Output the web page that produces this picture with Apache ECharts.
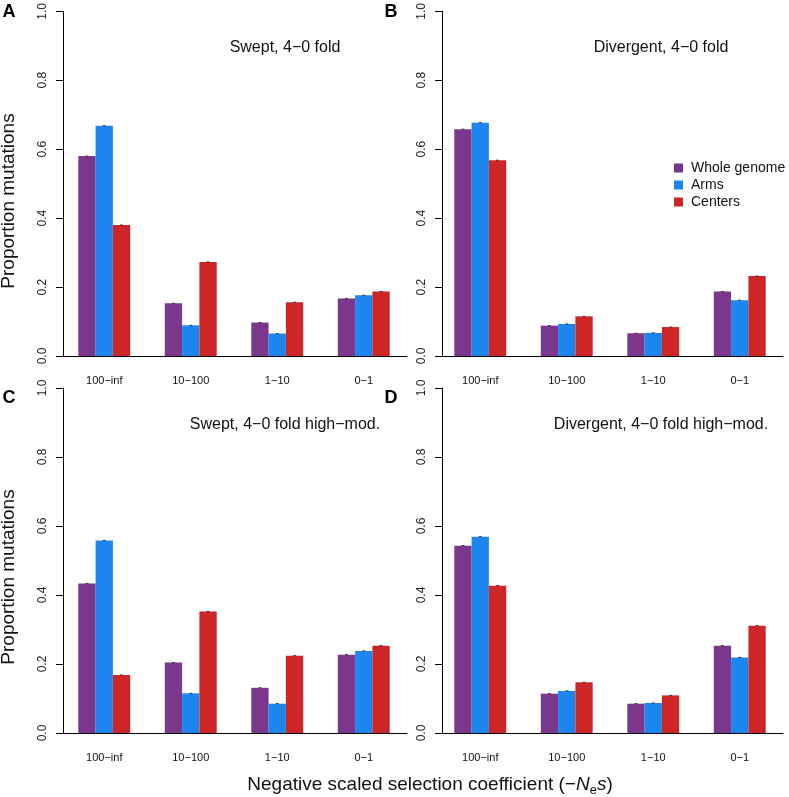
<!DOCTYPE html>
<html>
<head>
<meta charset="utf-8">
<script src="https://cdn.jsdelivr.net/npm/echarts@6/dist/echarts.min.js"></script>
<style>
  html, body { margin: 0; padding: 0; background: #fff; }
  #chart { width: 789px; height: 797px; }
</style>
</head>
<body>
<div id="chart"></div>
<script>
const categories = ['100\u2212inf', '10\u2212100', '1\u221210', '0\u22121'];
const groupNames = ['Whole genome', 'Arms', 'Centers'];
const yTicks = [0, 0.2, 0.4, 0.6, 0.8, 1.0];

// A: swept, 4-0 fold
const sweptWhole = [0.580, 0.153, 0.097, 0.167];
const sweptArms = [0.668, 0.089, 0.065, 0.176];
const sweptCenters = [0.380, 0.273, 0.156, 0.187];
// B: divergent, 4-0 fold
const divWhole = [0.658, 0.088, 0.066, 0.187];
const divArms = [0.677, 0.093, 0.067, 0.162];
const divCenters = [0.568, 0.115, 0.084, 0.232];
// C: swept, high-mod
const sweptHmWhole = [0.433, 0.204, 0.131, 0.227];
const sweptHmArms = [0.558, 0.115, 0.085, 0.238];
const sweptHmCenters = [0.168, 0.352, 0.224, 0.253];
// D: divergent, high-mod
const divHmWhole = [0.543, 0.114, 0.085, 0.253];
const divHmArms = [0.569, 0.122, 0.087, 0.219];
const divHmCenters = [0.427, 0.147, 0.109, 0.311];

const colors = ['#7A378B', '#1C86EE', '#CD2626'];
const font = 'Liberation Sans, Arial, Helvetica, sans-serif';

const panels = [
  { letter: 'A', title: 'Swept, 4\u22120 fold', data: [sweptWhole, sweptArms, sweptCenters], left: 61, top: 11, yOff: -2 },
  { letter: 'B', title: 'Divergent, 4\u22120 fold', data: [divWhole, divArms, divCenters], left: 437, top: 11, yOff: -5 },
  { letter: 'C', title: 'Swept, 4\u22120 fold high\u2212mod.', data: [sweptHmWhole, sweptHmArms, sweptHmCenters], left: 61, top: 388, yOff: -2 },
  { letter: 'D', title: 'Divergent, 4\u22120 fold high\u2212mod.', data: [divHmWhole, divHmArms, divHmCenters], left: 437, top: 388, yOff: -5 }
];

const chart = echarts.init(document.getElementById('chart'));

const grid = [], xAxis = [], yAxis = [], series = [], graphic = [];

panels.forEach((p, i) => {
  grid.push({ left: p.left, top: p.top, width: 346, height: 345 });
  xAxis.push({
    type: 'category', gridIndex: i, data: categories,
    axisLine: { show: true, lineStyle: { color: '#000', width: 1 } },
    axisTick: { show: false },
    axisLabel: { margin: 19, fontSize: 11, color: '#111', fontFamily: font }
  });
  yAxis.push({
    type: 'value', gridIndex: i, min: 0, max: 1, interval: 0.2, offset: p.yOff,
    axisLine: { show: true, lineStyle: { color: '#000', width: 1 } },
    axisTick: { show: true, length: 7, lineStyle: { color: '#000' } },
    splitLine: { show: false },
    axisLabel: {
      rotate: 90, margin: 14, fontSize: 12, color: '#222', fontFamily: font,
      formatter: v => v.toFixed(1)
    }
  });
  p.data.forEach((vals, k) => {
    series.push({
      type: 'bar', name: groupNames[k], xAxisIndex: i, yAxisIndex: i,
      data: vals, barGap: '0%', barCategoryGap: '40%',
      itemStyle: { color: colors[k] }, silent: true
    });
  });
  // tiny error whiskers on top of each bar
  p.data.forEach((vals, k) => {
    series.push({
      type: 'custom', xAxisIndex: i, yAxisIndex: i, silent: true, z: 5,
      data: vals.map((v, c) => [c, v]),
      renderItem: (params, api) => {
        const pt = api.coord([api.value(0), api.value(1)]);
        const band = api.size([1, 0])[0];
        const bw = band * 0.6 / 3;
        const cx = pt[0] + (k - 1) * bw;
        return {
          type: 'line',
          shape: { x1: cx - 1.5, y1: pt[1], x2: cx + 1.5, y2: pt[1] },
          style: { stroke: '#333', lineWidth: 1 }
        };
      }
    });
  });
  const titleX = p.left < 200 ? 285 : 661;
  const titleY = p.top < 200 ? 48 : 425;
  graphic.push({
    type: 'text', x: titleX, y: titleY,
    style: { text: p.title, fontSize: 16, fill: '#111', fontFamily: font, align: 'center', verticalAlign: 'middle' }
  });
  graphic.push({
    type: 'text', x: p.left < 200 ? 9 : 391, y: p.top < 200 ? 12 : 398,
    style: { text: p.letter, fontSize: 18, fontWeight: 'bold', fill: '#000', fontFamily: font, align: 'center', verticalAlign: 'middle' }
  });
});

// y axis titles
[201, 577].forEach(cy => {
  graphic.push({
    type: 'text', x: 9, y: cy, rotation: Math.PI / 2,
    style: { text: 'Proportion mutations', fontSize: 19, fill: '#111', fontFamily: font, align: 'center', verticalAlign: 'middle' }
  });
});

// x axis title
graphic.push({
  type: 'text', x: 430, y: 785,
  style: {
    text: '{n|Negative scaled selection coefficient (\u2212}{i|N}{s|e}{i|s}{n|)}',
    align: 'center', verticalAlign: 'middle', fill: '#111',
    rich: {
      n: { fontSize: 19, fontFamily: font, lineHeight: 24 },
      i: { fontSize: 19, fontFamily: font, fontStyle: 'italic', lineHeight: 24 },
      s: { fontSize: 13, fontFamily: font, lineHeight: 14, verticalAlign: 'bottom' }
    }
  }
});

chart.setOption({
  animation: false,
  grid: grid,
  xAxis: xAxis,
  yAxis: yAxis,
  series: series,
  legend: {
    data: groupNames, orient: 'vertical', left: 669, top: 156,
    icon: 'rect', itemWidth: 9, itemHeight: 9, itemGap: 3,
    textStyle: { fontSize: 14, color: '#111', fontFamily: font, padding: [0, 0, 0, 3] }
  },
  graphic: graphic
});
</script>
</body>
</html>
